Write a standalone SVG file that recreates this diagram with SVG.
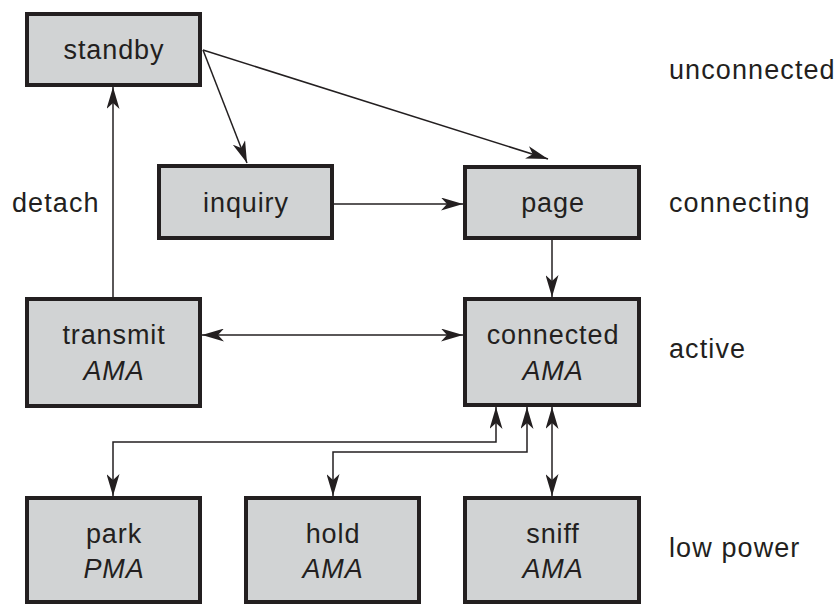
<svg xmlns="http://www.w3.org/2000/svg" width="839" height="606" viewBox="0 0 839 606">
<style>
.box{fill:#d1d3d4;stroke:#231f20;stroke-width:4}
.t{font-family:"Liberation Sans",Arial,sans-serif;font-size:27px;fill:#231f20;text-anchor:middle;letter-spacing:0.9px}
.it{font-style:italic}
.lbl{font-family:"Liberation Sans",Arial,sans-serif;font-size:27px;fill:#231f20;letter-spacing:1.1px}
.c{fill:none;stroke:#231f20;stroke-width:1.5}
</style>
<defs>
<marker id="ah" markerUnits="userSpaceOnUse" viewBox="0 0 22 13" refX="22" refY="6.5" markerWidth="22" markerHeight="13" orient="auto-start-reverse">
<path d="M0,0 L22,6.5 L0,13 L6,6.5 z" fill="#231f20"/>
</marker>
</defs>
<rect width="839" height="606" fill="#ffffff"/>
<g id="connectors">
<line class="c" x1="203" y1="50" x2="247" y2="163" marker-end="url(#ah)"/>
<line class="c" x1="203" y1="50" x2="548" y2="159" marker-end="url(#ah)"/>
<line class="c" x1="334" y1="204" x2="463" y2="204" marker-end="url(#ah)"/>
<line class="c" x1="552" y1="240" x2="552" y2="297" marker-end="url(#ah)"/>
<line class="c" x1="202" y1="335" x2="463" y2="335" marker-start="url(#ah)" marker-end="url(#ah)"/>
<line class="c" x1="113" y1="297" x2="113" y2="87" marker-end="url(#ah)"/>
<path class="c" d="M496,407 V442 H113 V496" marker-start="url(#ah)" marker-end="url(#ah)"/>
<path class="c" d="M527,407 V452 H333 V496" marker-start="url(#ah)" marker-end="url(#ah)"/>
<line class="c" x1="552" y1="407" x2="552" y2="496" marker-start="url(#ah)" marker-end="url(#ah)"/>
</g>
<g id="standby"><rect class="box" x="27" y="14" width="173" height="71"/><text class="t" x="114" y="59">standby</text></g>
<g id="inquiry"><rect class="box" x="159" y="166" width="173" height="72"/><text class="t" x="246" y="212">inquiry</text></g>
<g id="page"><rect class="box" x="465" y="167" width="174" height="71"/><text class="t" x="553" y="212">page</text></g>
<g id="transmit"><rect class="box" x="27" y="299" width="173" height="107"/><text class="t" x="114" y="344">transmit</text><text class="t it" x="114" y="380">AMA</text></g>
<g id="connected"><rect class="box" x="465" y="299" width="174" height="106"/><text class="t" x="553" y="344">connected</text><text class="t it" x="553" y="380">AMA</text></g>
<g id="park"><rect class="box" x="27" y="498" width="173" height="104"/><text class="t" x="114" y="543">park</text><text class="t it" x="114" y="578">PMA</text></g>
<g id="hold"><rect class="box" x="246" y="498" width="173" height="104"/><text class="t" x="333" y="543">hold</text><text class="t it" x="333" y="578">AMA</text></g>
<g id="sniff"><rect class="box" x="465" y="498" width="174" height="104"/><text class="t" x="553" y="543">sniff</text><text class="t it" x="553" y="578">AMA</text></g>
<g id="labels">
<text class="lbl" x="669" y="79">unconnected</text>
<text class="lbl" x="669" y="212">connecting</text>
<text class="lbl" x="669" y="358">active</text>
<text class="lbl" x="669" y="557">low power</text>
<text class="lbl" x="12" y="212">detach</text>
</g>
</svg>
